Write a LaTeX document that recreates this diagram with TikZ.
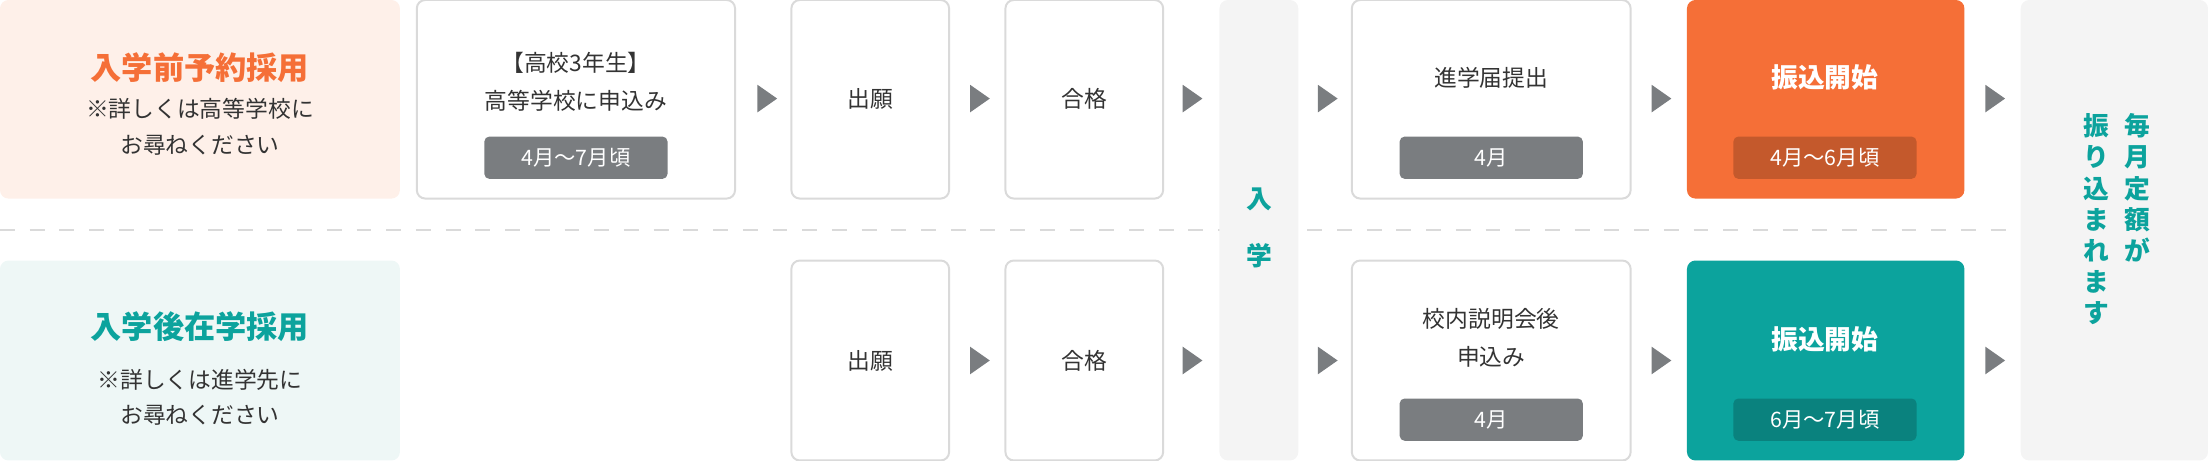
\documentclass[tikz,border=0pt]{standalone}
\usepackage{fontspec}
\setmainfont{Noto Sans CJK JP}
\usetikzlibrary{shapes.geometric}
\definecolor{org}{HTML}{F56F37}
\definecolor{orgl}{HTML}{FEF0E9}
\definecolor{tea}{HTML}{0CA39D}
\definecolor{teal2}{HTML}{EEF7F6}
\definecolor{gcol}{HTML}{F4F4F4}
\definecolor{tagc}{HTML}{7A7D80}
\definecolor{bord}{HTML}{DADADA}
\definecolor{txt}{HTML}{333333}
\tikzset{
 box/.style={draw=bord,line width=0.4pt,fill=white,rounded corners=1.7pt},
 plain/.style={rounded corners=1.7pt},
 tag/.style={fill=tagc,rounded corners=1pt,minimum width=1.3cm,minimum height=0.3cm,inner sep=0pt,text=white,font=\fontsize{4.3}{5}\selectfont},
 lab/.style={text=txt,font=\fontsize{4.6}{5.6}\selectfont,align=center,inner sep=0pt},
 ttl/.style={font=\fontsize{6.3}{7}\selectfont\bfseries,inner sep=0pt},
 tri/.style={fill=tagc,isosceles triangle,isosceles triangle apex angle=70,minimum height=0.14cm,minimum width=0.18cm,inner sep=0pt},
 vtxt/.style={text=tea,font=\fontsize{5.2}{6.3}\selectfont\bfseries,align=center,inner sep=0pt,anchor=north}
}
\begin{document}
\begin{tikzpicture}[x=0.01cm,y=-0.01cm]
\useasboundingbox (0,0) rectangle (1568,327);
\draw[bord,dashed,line width=0.4pt] (0,163) -- (1430,163);
% left boxes
\fill[orgl,plain] (0,0) rectangle (284,141);
\node[ttl,text=org] (t1) at (142,48) {入学前予約採用};
\node[lab] (n1) at (142,90) {※詳しくは高等学校に\\[1.5pt]お尋ねください};
\fill[teal2,plain] (0,185) rectangle (284,327);
\node[ttl,text=tea] (t2) at (142,232) {入学後在学採用};
\node[lab] (n2) at (142,282) {※詳しくは進学先に\\[1.5pt]お尋ねください};
% columns
\fill[gcol,plain] (866,0) rectangle (922,327);
\node[vtxt,font=\fontsize{5.2}{11.5}\selectfont\bfseries] (ny) at (894,133) {入\\学};
\fill[gcol,plain] (1435,0) rectangle (1568,327);
\node[vtxt] (v1) at (1518,80) {毎\\月\\定\\額\\が};
\node[vtxt] (v2) at (1489,80) {振\\り\\込\\ま\\れ\\ま\\す};
% top row
\draw[box] (296,0) rectangle (522,141);
\node[lab] (a1) at (409,58) {【高校3年生】\\[2pt]高等学校に申込み};
\node[tag] (a1t) at (409,112) {4月～7月頃};
\draw[box] (562,0) rectangle (674,141); \node[lab] (b1) at (618,70) {出願};
\draw[box] (714,0) rectangle (826,141); \node[lab] (c1) at (770,70) {合格};
\draw[box] (960,0) rectangle (1158,141); \node[lab] (d1) at (1059,55) {進学届提出};
\node[tag] (d1t) at (1059,112) {4月};
\fill[org,plain] (1198,0) rectangle (1395,141);
\node[ttl,text=white,font=\fontsize{5.4}{6}\selectfont\bfseries] (e1) at (1296,55) {振込開始};
\node[tag,fill=org!80!black] (e1t) at (1296,112) {4月～6月頃};
% bottom row
\draw[box] (562,185) rectangle (674,327); \node[lab] (b2) at (618,256) {出願};
\draw[box] (714,185) rectangle (826,327); \node[lab] (c2) at (770,256) {合格};
\draw[box] (960,185) rectangle (1158,327); \node[lab] (d2) at (1059,240) {校内説明会後\\[2pt]申込み};
\node[tag] (d2t) at (1059,298) {4月};
\fill[tea,plain] (1198,185) rectangle (1395,327);
\node[ttl,text=white,font=\fontsize{5.4}{6}\selectfont\bfseries] (e2) at (1296,241) {振込開始};
\node[tag,fill=tea!80!black] (e2t) at (1296,298) {6月～7月頃};
% arrows
\foreach \x/\n in {543/p1,694/p2,845/p3,941/p4,1178/p5,1415/p6}
  \node[tri] (\n) at (\x,70) {};
\foreach \x/\n in {694/q2,845/q3,941/q4,1178/q5,1415/q6}
  \node[tri] (\n) at (\x,256) {};
\end{tikzpicture}
\end{document}
